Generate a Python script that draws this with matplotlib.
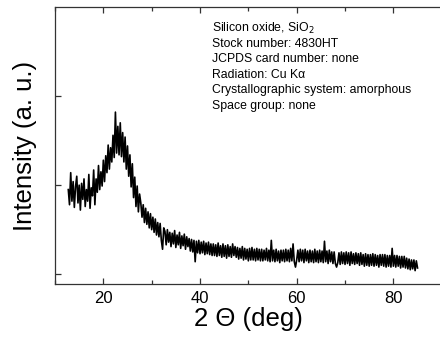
import numpy as np
import matplotlib
matplotlib.use("Agg")
import matplotlib.pyplot as plt
from matplotlib.ticker import MultipleLocator

plt.rcParams['font.family'] = ['Liberation Sans', 'DejaVu Sans']

# 2 theta grid, 0.25 deg step
two_theta = np.arange(12.75, 85.001, 0.25)

# intensity (arbitrary units)
intensity = [
    0.95, 0.78, 1.14, 0.82, 1.04, 0.75, 0.98, 1.10, 0.80, 1.00, 0.72, 1.02, 0.84, 1.07, 0.76, 0.95, 0.82, 1.12, 0.74, 0.97,
    0.88, 1.17, 0.78, 1.07, 0.92, 1.22, 0.95, 1.15, 0.99, 1.28, 1.04, 1.33, 1.14, 1.45, 1.18, 1.42, 1.26, 1.56, 1.31, 1.82,
    1.36, 1.66, 1.34, 1.70, 1.32, 1.59, 1.26, 1.54, 1.18, 1.44, 1.10, 1.34, 0.98, 1.24, 0.86, 1.09, 0.76, 0.99, 0.70, 0.90,
    0.80, 0.64, 0.78, 0.58, 0.74, 0.56, 0.70, 0.52, 0.68, 0.50, 0.64, 0.47, 0.62, 0.44, 0.58, 0.42, 0.57, 0.38, 0.28, 0.52,
    0.48, 0.33, 0.50, 0.36, 0.47, 0.31, 0.46, 0.34, 0.49, 0.30, 0.44, 0.33, 0.47, 0.29, 0.43, 0.32, 0.45, 0.28, 0.42, 0.31,
    0.40, 0.26, 0.39, 0.25, 0.38, 0.14, 0.37, 0.24, 0.38, 0.23, 0.36, 0.24, 0.37, 0.22, 0.35, 0.23, 0.36, 0.22, 0.34, 0.21,
    0.34, 0.21, 0.33, 0.20, 0.35, 0.21, 0.32, 0.19, 0.34, 0.20, 0.32, 0.18, 0.33, 0.20, 0.31, 0.19, 0.34, 0.21, 0.31, 0.19,
    0.30, 0.17, 0.29, 0.18, 0.31, 0.16, 0.29, 0.17, 0.28, 0.15, 0.29, 0.16, 0.30, 0.16, 0.28, 0.15, 0.29, 0.16, 0.28, 0.15,
    0.28, 0.15, 0.27, 0.16, 0.29, 0.15, 0.27, 0.14, 0.38, 0.15, 0.27, 0.14, 0.28, 0.15, 0.26, 0.13, 0.27, 0.15, 0.27, 0.14,
    0.28, 0.15, 0.27, 0.14, 0.29, 0.15, 0.34, 0.14, 0.08, 0.16, 0.27, 0.14, 0.28, 0.15, 0.27, 0.13, 0.28, 0.15, 0.26, 0.13,
    0.27, 0.14, 0.26, 0.13, 0.28, 0.14, 0.26, 0.13, 0.27, 0.14, 0.26, 0.13, 0.37, 0.14, 0.26, 0.12, 0.27, 0.14, 0.25, 0.12,
    0.25, 0.12, 0.08, 0.13, 0.24, 0.11, 0.25, 0.12, 0.24, 0.11, 0.25, 0.12, 0.24, 0.10, 0.25, 0.12, 0.23, 0.11, 0.24, 0.12,
    0.23, 0.10, 0.24, 0.11, 0.22, 0.09, 0.23, 0.10, 0.22, 0.09, 0.22, 0.10, 0.23, 0.09, 0.22, 0.10, 0.21, 0.08, 0.22, 0.10,
    0.22, 0.09, 0.22, 0.08, 0.21, 0.09, 0.21, 0.08, 0.29, 0.09, 0.21, 0.08, 0.21, 0.09, 0.20, 0.07, 0.20, 0.08, 0.20, 0.07,
    0.18, 0.06, 0.17, 0.05, 0.16, 0.06, 0.16, 0.04, 0.15, 0.07,
]

x_ticks = [20, 40, 60, 80]
y_ticks = [0, 1, 2]

info_lines = [
    "Silicon oxide, SiO$_2$",
    "Stock number: 4830HT",
    "JCPDS card number: none",
    "Radiation: Cu K\u03b1",
    "Crystallographic system: amorphous",
    "Space group: none",
]

fig = plt.figure(figsize=(4.4, 3.41), dpi=100)
ax = fig.add_axes([55 / 440, 1 - 284 / 341, (441.7 - 55) / 440, (284 - 7) / 341])

ax.plot(two_theta, intensity, color="black", lw=1.2)

ax.set_xlim(10, 90)
ax.set_ylim(-0.11, 3.0)
ax.set_xticks(x_ticks)
ax.xaxis.set_minor_locator(MultipleLocator(10))
ax.set_yticks(y_ticks)
ax.set_yticklabels([])

for sp in ax.spines.values():
    sp.set_color("#333333")
    sp.set_linewidth(0.9)

ax.tick_params(which="both", direction="in", top=True, right=False, color="#333333", width=0.9)
ax.tick_params(which="major", length=4, labelsize=12, pad=5)
ax.tick_params(which="minor", length=3)

ax.set_xlabel("2 \u0398 (deg)", fontsize=18.5, labelpad=1)
ax.set_ylabel("Intensity (a. u.)", fontsize=18.5, labelpad=8)

for i, line in enumerate(info_lines):
    fig.text(212 / 440, 1 - (28 + i * 15.6) / 341, line, fontsize=8.8, va="center", ha="left")

fig.savefig("out.png", dpi=100)
